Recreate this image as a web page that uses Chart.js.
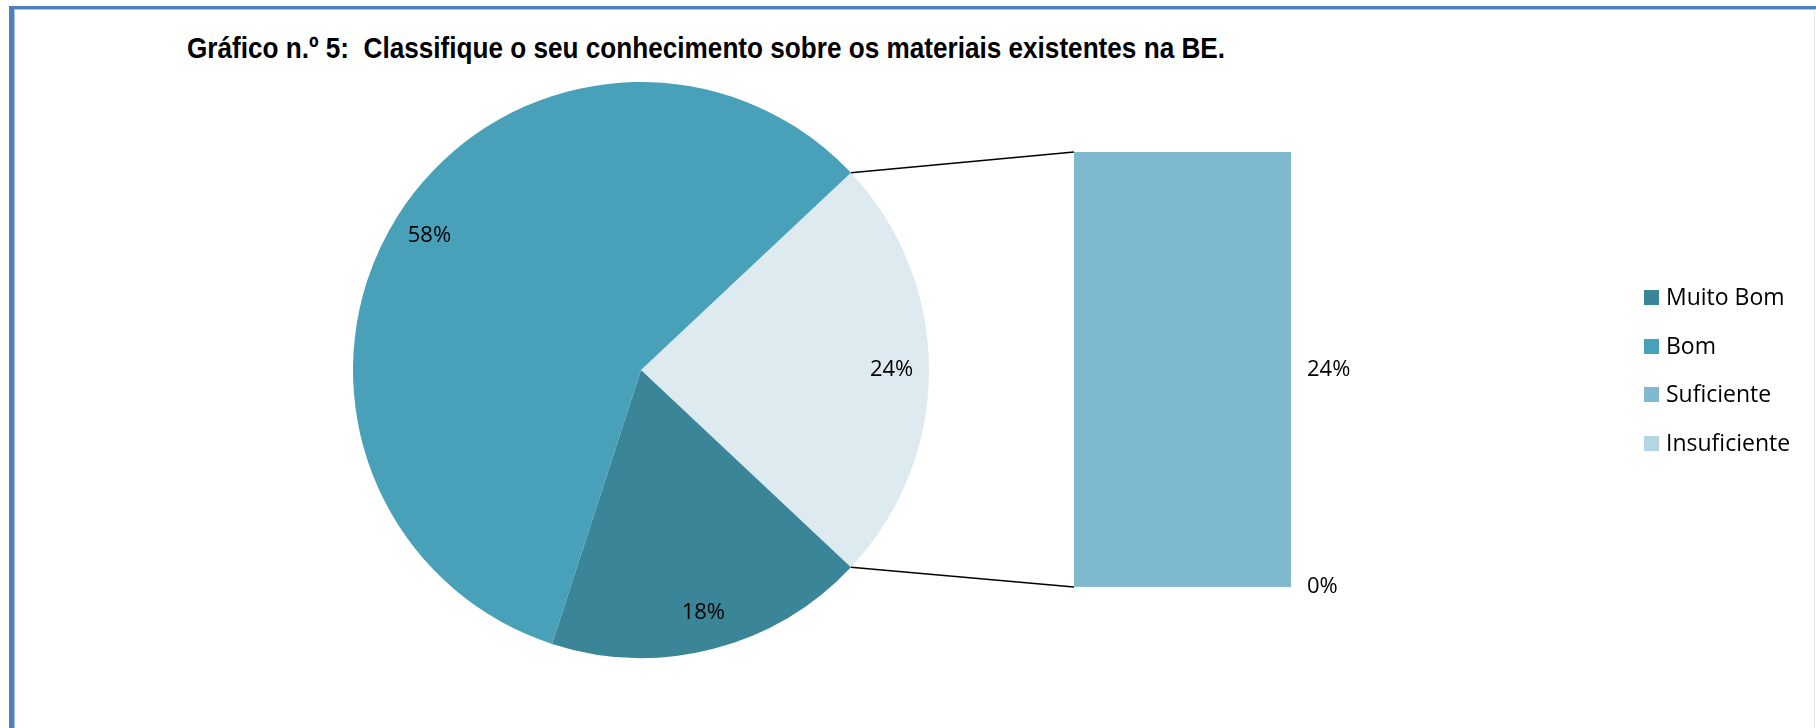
<!DOCTYPE html>
<html>
<head>
<meta charset="utf-8">
<script src="https://cdn.jsdelivr.net/npm/chart.js@4"></script>
<style>
  body { margin: 0; background: #fff; }
  #wrap { position: relative; width: 1816px; height: 728px; overflow: hidden; }
  #frame { position: absolute; left: 9px; top: 6px; width: 1820px; height: 740px;
           border-top: 3px solid #4F81BD; border-left: 5px solid #4F81BD; box-sizing: border-box; }
  #frame:after { content: ''; position: absolute; left: 0; top: 0; right: 0; bottom: 0;
           border-top: 1px solid #A9C2E2; border-left: 1px solid #A9C2E2; }
  #edge { position: absolute; left: 1814px; top: 9px; width: 1px; height: 719px; background: #e6e6e6; }
  canvas { position: absolute; left: 0; top: 0; }
  #title { position: absolute; left: 187px; top: 31px; white-space: pre; transform-origin: 0 0;
           font: bold 30px "Liberation Sans", Arial, sans-serif; color: #000; }
  .leg { position: absolute; left: 1644px; height: 24px; font: 23px "Open Sans", sans-serif; color: #000; white-space: nowrap; }
  .leg span { position: absolute; left: 0; top: 5px; width: 15px; height: 15px; }
  .leg b { position: absolute; left: 22px; top: -5px; font-weight: normal; }
</style>
</head>
<body>
<div id="wrap">
  <div id="frame"></div>
  <div id="edge"></div>
  <div id="title">Gráfico n.º 5:  Classifique o seu conhecimento sobre os materiais existentes na BE.</div>
  <canvas id="pie" width="1816" height="728"></canvas>
  <canvas id="bar" width="1816" height="728"></canvas>
</div>
<script>
// dados (percentagens)
const categories = ['Muito Bom', 'Bom', 'Suficiente', 'Insuficiente'];
const values = [18, 58, 24, 0];
const colors = ['#3A8698', '#48A1B9', '#7FB9CF', '#B5D5E0'];
const otherColor = '#DDEAF0';

// o título ocupa a mesma largura que no original
const titleEl = document.getElementById('title');
const tw = titleEl.getBoundingClientRect().width;
titleEl.style.transform = 'scaleX(' + (1038 / tw) + ')';

// legenda
categories.forEach((c, i) => {
  const d = document.createElement('div');
  d.className = 'leg';
  d.style.top = (285 + i * 48.5) + 'px';
  d.innerHTML = '<span style="background:' + colors[i] + '"></span><b>' + c + '</b>';
  document.getElementById('wrap').appendChild(d);
});

// pie: "outros" = Suficiente + Insuficiente
const otherVal = values[2] + values[3];
const pieValues = [otherVal, values[0], values[1]];
const pieColors = [otherColor, colors[0], colors[1]];

const pieLabelsPlugin = {
  id: 'pieLabels',
  afterDatasetsDraw(chart) {
    const ctx = chart.ctx;
    const arcs = chart.getDatasetMeta(0).data;
    ctx.save();
    ctx.font = '22px "Open Sans", sans-serif';
    ctx.fillStyle = '#000';
    ctx.textAlign = 'center';
    ctx.textBaseline = 'middle';
    arcs.forEach((a, i) => {
      const mid = (a.startAngle + a.endAngle) / 2;
      const r = a.outerRadius * 0.87;
      ctx.fillText(pieValues[i] + '%', a.x + Math.cos(mid) * r, a.y + Math.sin(mid) * r);
    });
    ctx.restore();
  }
};

const pieChart = new Chart(document.getElementById('pie'), {
  type: 'pie',
  data: {
    labels: ['Outros', categories[0], categories[1]],
    datasets: [{ data: pieValues, backgroundColor: pieColors, borderWidth: 0 }]
  },
  options: {
    responsive: false,
    animation: false,
    rotation: 90 - otherVal * 3.6 / 2,
    layout: { padding: { left: 353, right: 887, top: 82, bottom: 70 } },
    plugins: { legend: { display: false }, tooltip: { enabled: false } }
  },
  plugins: [pieLabelsPlugin]
});

// barra secundária
const barLabelsPlugin = {
  id: 'barLabels',
  afterDatasetsDraw(chart) {
    const ctx = chart.ctx;
    const top = chart.getDatasetMeta(1).data[0];
    const bottom = chart.getDatasetMeta(0).data[0];
    const left = top.x - top.width / 2;

    // linhas de ligação
    const a = pieChart.getDatasetMeta(0).data[0];
    ctx.save();
    ctx.strokeStyle = '#000';
    ctx.lineWidth = 1.5;
    ctx.beginPath();
    ctx.moveTo(a.x + Math.cos(a.startAngle) * a.outerRadius, a.y + Math.sin(a.startAngle) * a.outerRadius);
    ctx.lineTo(left, top.y);
    ctx.moveTo(a.x + Math.cos(a.endAngle) * a.outerRadius, a.y + Math.sin(a.endAngle) * a.outerRadius);
    ctx.lineTo(left, bottom.base);
    ctx.stroke();

    ctx.font = '22px "Open Sans", sans-serif';
    ctx.fillStyle = '#000';
    ctx.textAlign = 'left';
    ctx.textBaseline = 'middle';
    chart.data.datasets.forEach((ds, i) => {
      const el = chart.getDatasetMeta(i).data[0];
      ctx.fillText(ds.data[0] + '%', el.x + el.width / 2 + 16, (el.y + el.base) / 2);
    });
    ctx.restore();
  }
};

new Chart(document.getElementById('bar'), {
  type: 'bar',
  data: {
    labels: [''],
    datasets: [
      { label: categories[3], data: [values[3]], backgroundColor: colors[3], borderWidth: 0 },
      { label: categories[2], data: [values[2]], backgroundColor: colors[2], borderWidth: 0 }
    ]
  },
  options: {
    responsive: false,
    animation: false,
    barPercentage: 1,
    categoryPercentage: 1,
    layout: { padding: { left: 1074, right: 525, top: 152, bottom: 141 } },
    scales: {
      x: { stacked: true, display: false },
      y: { stacked: true, display: false, min: 0, max: otherVal }
    },
    plugins: { legend: { display: false }, tooltip: { enabled: false } }
  },
  plugins: [barLabelsPlugin]
});
</script>
</body>
</html>
